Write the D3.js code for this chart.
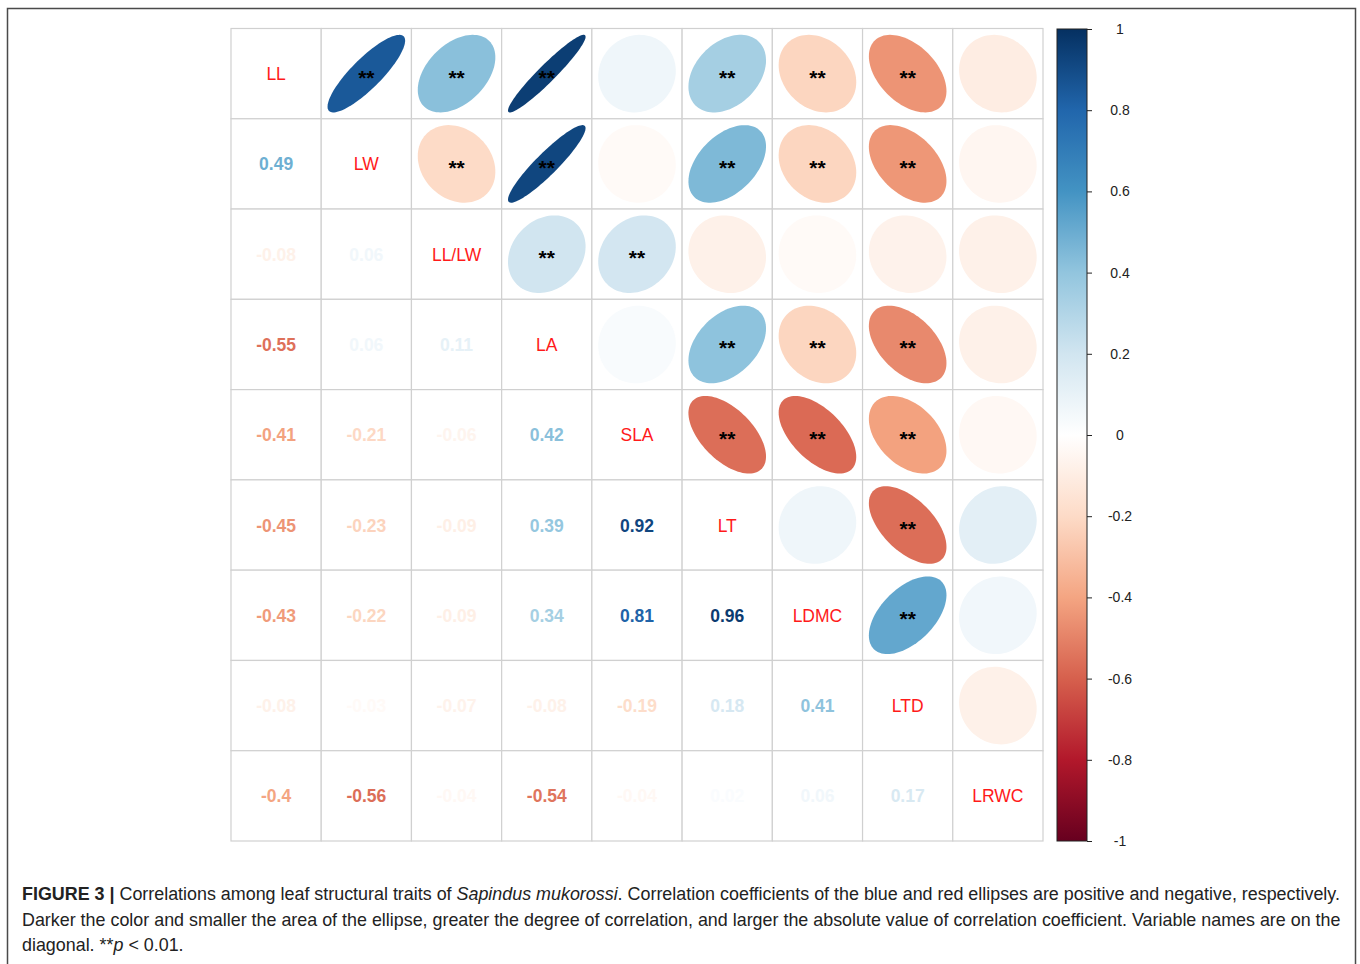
<!DOCTYPE html>
<html><head><meta charset="utf-8">
<script src="https://cdn.jsdelivr.net/npm/d3@7"></script>
<style>body{margin:0;background:#fff}</style></head>
<body>
<svg id="c" width="1360" height="964"></svg>
<script>
// ---- data ----
const vars = ["LL","LW","LL/LW","LA","SLA","LT","LDMC","LTD","LRWC"];
// lower triangle: printed coefficients (row i, columns 0..i-1)
const lowerRows = [
  [],
  [0.49],
  [-0.08, 0.06],
  [-0.55, 0.06, 0.11],
  [-0.41, -0.21, -0.06, 0.42],
  [-0.45, -0.23, -0.09, 0.39, 0.92],
  [-0.43, -0.22, -0.09, 0.34, 0.81, 0.96],
  [-0.08, -0.03, -0.07, -0.08, -0.19, 0.18, 0.41],
  [-0.4, -0.56, -0.04, -0.54, -0.04, 0.02, 0.06, 0.17]
];
// upper triangle: ellipse coefficients (row i, columns i+1..8), read from shapes/colours
const upperRows = [
  [0.85, 0.42, 0.95, 0.07, 0.34, -0.22, -0.45, -0.1],
  [-0.2, 0.92, -0.03, 0.45, -0.22, -0.44, -0.05],
  [0.2, 0.19, -0.08, -0.03, -0.07, -0.08],
  [0.03, 0.41, -0.22, -0.48, -0.08],
  [-0.56, -0.57, -0.41, -0.04],
  [0.07, -0.56, 0.12],
  [0.52, 0.06],
  [-0.08]
];
// significance (**) for upper cells
const signifRows = [
  [1,1,1,0,1,1,1,0],
  [1,1,0,1,1,1,0],
  [1,1,0,0,0,0],
  [0,1,1,1,0],
  [1,1,1,0],
  [0,1,0],
  [1,0],
  [0]
];
const legendTicks = [1,0.8,0.6,0.4,0.2,0,-0.2,-0.4,-0.6,-0.8,-1];
const palette = ["#67001F","#B2182B","#D6604D","#F4A582","#FDDBC7","#FFFFFF","#D1E5F0","#92C5DE","#4393C3","#2166AC","#053061"];
const captionLines = [
  [{t:"FIGURE 3 | ",b:1},{t:"Correlations among leaf structural traits of "},{t:"Sapindus mukorossi",i:1},{t:". Correlation coefficients of the blue and red ellipses are positive and negative, respectively."}],
  [{t:"Darker the color and smaller the area of the ellipse, greater the degree of correlation, and larger the absolute value of correlation coefficient. Variable names are on the"}],
  [{t:"diagonal. **"},{t:"p",i:1},{t:" < 0.01."}]
];

// ---- drawing ----
const svg = d3.select("#c");
const font = "'Liberation Sans', Arial, Helvetica, sans-serif";

// frame
svg.append("rect").attr("x",7.5).attr("y",8.5).attr("width",1348).attr("height",1000)
  .attr("fill","none").attr("stroke","#4a4a4a").attr("stroke-width",1.5);

const x = d3.scaleBand().domain(d3.range(vars.length)).range([231, 1043]);
const y = d3.scaleBand().domain(d3.range(vars.length)).range([28.5, 841]);
const color = d3.scaleLinear().domain(d3.range(11).map(i => -1 + i*0.2)).range(palette).interpolate(d3.interpolateRgb);

const cells = [];
for (let i = 0; i < vars.length; i++) for (let j = 0; j < vars.length; j++) {
  let type, v = null, sig = 0;
  if (i === j) type = "diag";
  else if (j < i) { type = "lower"; v = lowerRows[i][j]; }
  else { type = "upper"; v = upperRows[i][j-i-1]; sig = signifRows[i][j-i-1]; }
  cells.push({i, j, type, v, sig});
}

const g = svg.append("g");
// grid
g.selectAll("rect.cell").data(cells).join("rect").attr("class","cell")
  .attr("x", d => x(d.j)).attr("y", d => y(d.i))
  .attr("width", x.bandwidth()).attr("height", y.bandwidth())
  .attr("fill","#fff").attr("stroke","#d0d0d0").attr("stroke-width",1.2);

// ellipses (corrplot ell.dat)
const sz = x.bandwidth() * 0.86;
function ellPoints(rho) {
  const th = Math.acos(rho), n = 99, pts = [];
  for (let k = 0; k < n; k++) {
    const t = 2*Math.PI*k/(n-1);
    pts.push([Math.cos(t + th/2)/2*sz, -Math.cos(t - th/2)/2*sz]);
  }
  return pts;
}
const line = d3.line().curve(d3.curveLinearClosed);
const up = cells.filter(d => d.type === "upper");
g.selectAll("path.ell").data(up).join("path").attr("class","ell")
  .attr("transform", d => `translate(${x(d.j)+x.bandwidth()/2},${y(d.i)+y.bandwidth()/2})`)
  .attr("d", d => line(ellPoints(d.v)))
  .attr("fill", d => color(d.v));
g.selectAll("text.sig").data(up.filter(d => d.sig)).join("text").attr("class","sig")
  .attr("x", d => x(d.j)+x.bandwidth()/2).attr("y", d => y(d.i)+y.bandwidth()/2 + 11)
  .attr("text-anchor","middle").attr("font-family",font).attr("font-weight","bold")
  .attr("font-size",21).attr("fill","#000").text("**");

// lower numbers
g.selectAll("text.num").data(cells.filter(d => d.type === "lower")).join("text").attr("class","num")
  .attr("x", d => x(d.j)+x.bandwidth()/2).attr("y", d => y(d.i)+y.bandwidth()/2 + 6.5)
  .attr("text-anchor","middle").attr("font-family",font).attr("font-weight","bold")
  .attr("font-size",17.5).attr("fill", d => color(d.v)).text(d => String(d.v));

// diagonal labels
g.selectAll("text.lab").data(cells.filter(d => d.type === "diag")).join("text").attr("class","lab")
  .attr("x", d => x(d.j)+x.bandwidth()/2).attr("y", d => y(d.i)+y.bandwidth()/2 + 6.5)
  .attr("text-anchor","middle").attr("font-family",font)
  .attr("font-size",17.5).attr("fill","#FF1A1A").text(d => vars[d.i]);

// colour bar
const cb = d3.scaleLinear().domain([1,-1]).range([29, 841]);
const defs = svg.append("defs");
const grad = defs.append("linearGradient").attr("id","cbg").attr("x1",0).attr("y1",0).attr("x2",0).attr("y2",1);
palette.slice().reverse().forEach((c, k) => grad.append("stop").attr("offset", k/10).attr("stop-color", c));
svg.append("rect").attr("x",1057).attr("y",cb(1)).attr("width",30).attr("height",cb(-1)-cb(1))
  .attr("fill","url(#cbg)").attr("stroke","#222").attr("stroke-width",1);
const ax = svg.append("g").attr("transform","translate(1087,0)")
  .call(d3.axisRight(cb).tickValues(legendTicks).tickSize(5).tickFormat(d => String(d)));
ax.select(".domain").remove();
ax.selectAll("line").attr("stroke","#222");
ax.selectAll("text").attr("x",33).attr("text-anchor","middle").attr("font-family",font)
  .attr("font-size",14).attr("fill","#222");

// caption
const baselines = [900, 926, 951];
const targets = [1319, 1319, null];
let lastScale = 1;
captionLines.forEach((parts, li) => {
  const t = svg.append("text").attr("font-family",font).attr("font-size",18).attr("fill","#222")
    .attr("transform",`translate(22,${baselines[li]})`);
  parts.forEach(p => t.append("tspan").text(p.t)
    .attr("font-weight", p.b ? "bold" : null).attr("font-style", p.i ? "italic" : null)
    .attr("xml:space","preserve"));
  t.attr("xml:space","preserve");
  const w = t.node().getComputedTextLength();
  const s = targets[li] ? targets[li]/w : lastScale;
  lastScale = s;
  t.attr("transform",`translate(22,${baselines[li]}) scale(${s},1)`);
});
</script>
</body></html>
